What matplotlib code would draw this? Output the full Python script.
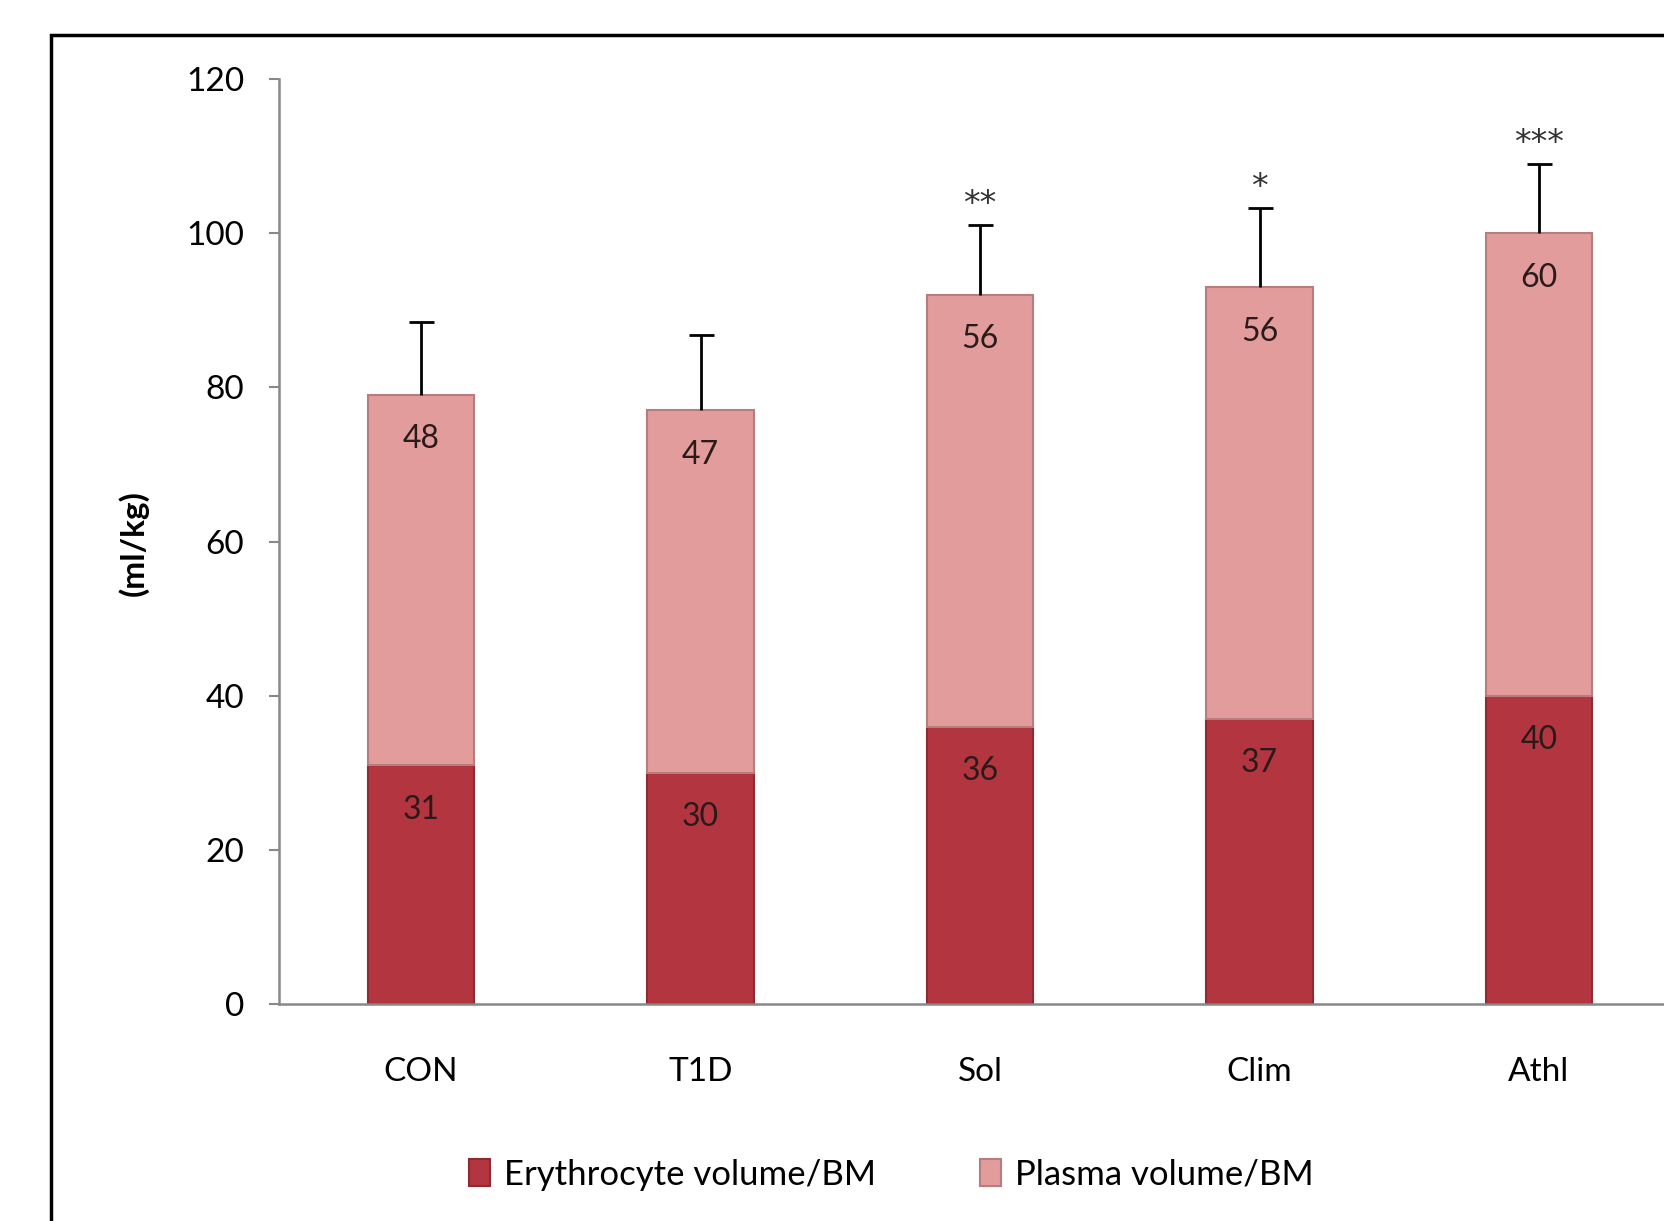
import matplotlib
matplotlib.use("Agg")
import matplotlib.pyplot as plt
import matplotlib.patches as mpatches
import numpy as np

categories = ["CON", "T1D", "Sol", "Clim", "Athl"]
erythrocyte = [31, 30, 36, 37, 40]
plasma = [48, 47, 56, 56, 60]
errors = [9.5, 9.8, 9.0, 10.3, 9.0]
stars = ["", "", "**", "*", "***"]
yticks = [0, 20, 40, 60, 80, 100, 120]

plt.rcParams['font.family'] = ['Lato', 'DejaVu Sans']

RED = "#B3353F"
RED_EDGE = "#8E2A33"
PINK = "#E39C9C"
PINK_EDGE = "#B87C7E"

fig = plt.figure(figsize=(16.64, 12.21), dpi=100)
fig.patch.set_facecolor("white")

# outer frame (cut off at right/bottom like the reference)
frame = mpatches.Rectangle((0.0306, -0.05), 1.2, 0.9713 + 0.05, transform=fig.transFigure,
                           fill=False, edgecolor="black", linewidth=2.5, zorder=0)
fig.patches.append(frame)

ax = fig.add_axes([0.1677, 0.1777, 0.863, 0.7576])
x = np.arange(len(categories))
w = 0.38
ery = np.array(erythrocyte)
pla = np.array(plasma)
tops = ery + pla

ax.bar(x, ery, width=w, color=RED, edgecolor=RED_EDGE, linewidth=1.5, label="Erythrocyte volume/BM", zorder=2)
ax.bar(x, pla, bottom=ery, width=w, color=PINK, edgecolor=PINK_EDGE, linewidth=1.5, label="Plasma volume/BM", zorder=2)

eb = ax.errorbar(x, tops, yerr=[np.zeros(len(x)), errors], fmt="none", ecolor="black",
                 elinewidth=2, capsize=9, capthick=2, zorder=3)
eb[1][0].set_visible(False)

for xi, e, p, t in zip(x, ery, pla, tops):
    ax.annotate(str(e), (xi, e), xytext=(0, -32), textcoords="offset points",
                ha="center", va="center", fontsize=23, color="#2a1a1a", zorder=4)
    ax.annotate(str(p), (xi, t), xytext=(0, -32), textcoords="offset points",
                ha="center", va="center", fontsize=23, color="#2a1a1a", zorder=4)

for xi, t, e, s in zip(x, tops, errors, stars):
    if s:
        ax.annotate(s, (xi, t + e), xytext=(0, 8), textcoords="offset points",
                    ha="center", va="baseline", fontsize=24, color="#333333",
                    family="DejaVu Sans", zorder=4)

ax.set_xlim(-0.508, 4.63)
ax.set_ylim(0, 120)
ax.set_yticks(yticks)
ax.set_yticklabels([str(v) for v in yticks], fontsize=24)
ax.set_xticks(x)
ax.set_xticklabels(categories, fontsize=24)
ax.tick_params(axis="x", length=0, pad=38)
ax.tick_params(axis="y", length=7, width=1.5, color="#888888", pad=18)
for s in ["top", "right"]:
    ax.spines[s].set_visible(False)
ax.spines["left"].set_color("#888888")
ax.spines["bottom"].set_color("#888888")
ax.spines["left"].set_linewidth(1.8)
ax.spines["bottom"].set_linewidth(1.8)

fig.text(133 / 1664, 0.555, "(ml/kg)", rotation=90, ha="center", va="center",
         fontsize=24, fontweight="bold")

handles, labels = ax.get_legend_handles_labels()
fig.legend(handles, labels, loc="center", bbox_to_anchor=(0.5356, 0.038), ncol=2, frameon=False,
           fontsize=25, handlelength=0.6, handleheight=0.8, handletextpad=0.4, columnspacing=3.0)

fig.savefig("out.png", dpi=100)
